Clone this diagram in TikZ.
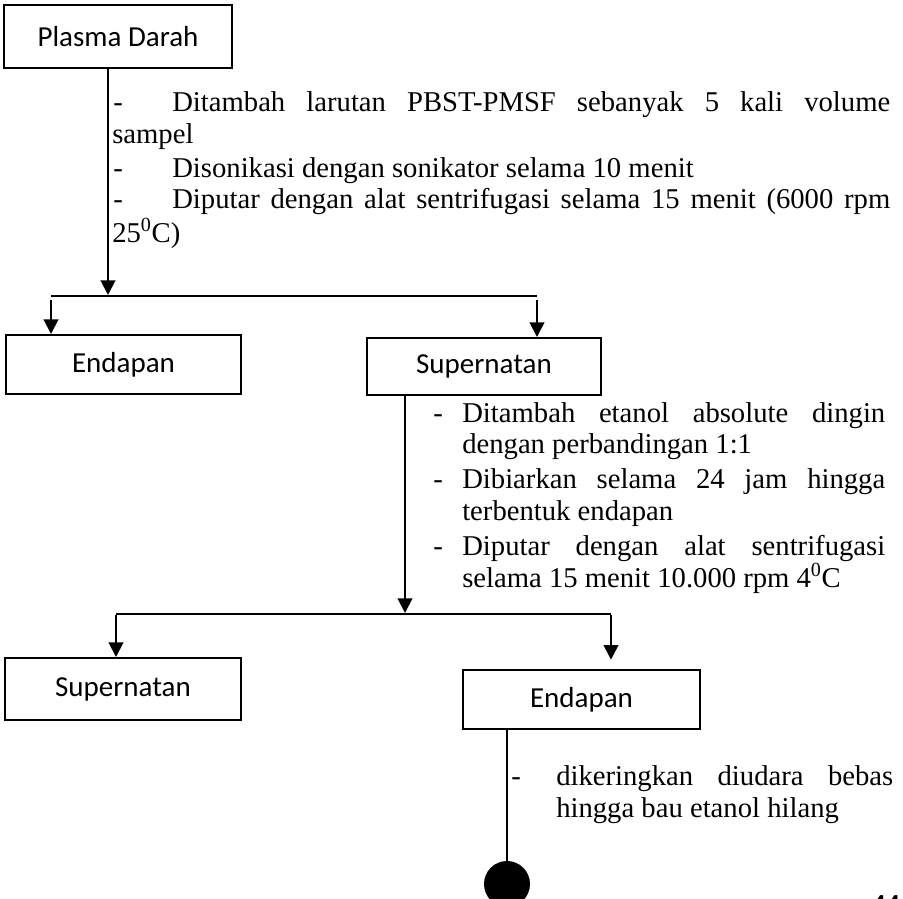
\documentclass[tikz,border=0pt]{standalone}
\usepackage{fontspec}
\setmainfont{Liberation Serif}
\newfontfamily\labelfont{Carlito}
\usetikzlibrary{arrows.meta}

\begin{document}
\begin{tikzpicture}[x=0.75pt,y=-0.75pt,
  box/.style={draw, line width=1.5pt, inner sep=0pt,
    font=\labelfont\fontsize{21.75pt}{26pt}\selectfont},
  flow/.style={line width=1.5pt},
  arr/.style={flow, -{Triangle[width=11pt,length=11pt]}},
  note/.style={anchor=base west, inner sep=0pt,
    font=\fontsize{21.5pt}{24.4pt}\selectfont}]
\useasboundingbox (0,0) rectangle (903,899);

% ---- boxes ----
\node[box, minimum width=171pt, minimum height=47.25pt] (plasma) at (118,36.5) {Plasma Darah};
\node[box, minimum width=176.25pt, minimum height=44.25pt] (end1) at (123.5,364.5) {Endapan};
\node[box, minimum width=175.5pt, minimum height=42.75pt] (sup1) at (484,366.5) {Supernatan};
\node[box, minimum width=177pt, minimum height=46.5pt] (sup2) at (123,689) {Supernatan};
\node[box, minimum width=177.75pt, minimum height=44.25pt] (end2) at (581.5,699.5) {Endapan};
\node[circle, fill=black, inner sep=0pt, minimum size=34.5pt] (dot) at (507,884) {};

% ---- junction points ----
\coordinate (j1) at (108,296);
\coordinate (j1l) at (51,296);
\coordinate (j1r) at (537,296);
\coordinate (j2) at (405,614);
\coordinate (j2l) at (116,614);
\coordinate (j2r) at (611,614);

% ---- connectors ----
\draw[arr] (j1 |- plasma.south) -- ([yshift=0.75pt]j1);
\draw[flow] (j1l) -- (j1r);
\draw[arr] ([yshift=-3pt]j1l) -- (j1l |- end1.north);
\draw[arr] ([yshift=-3pt]j1r) -- (j1r |- sup1.north);

\draw[arr] (j2 |- sup1.south) -- ([yshift=0.75pt]j2);
\draw[flow] (j2l) -- (j2r);
\draw[arr] ([yshift=-1pt]j2l) -- (j2l |- sup2.north);
\draw[arr] ([yshift=-1pt]j2r) -- ([yshift=7pt]j2r |- end2.north);

\draw[flow] (dot |- end2.south) -- (dot.north);

% ---- first processing step ----
\node[note] (a1) at (113,112) {-};
\node[note] (a1t) at (172,112) {\makebox[538.5pt][s]{Ditambah larutan PBST-PMSF sebanyak 5 kali volume}};
\node[note] (a1c) at (112,143) {sampel};
\node[note] (a2) at (113,177) {-};
\node[note] (a2t) at (172,177) {Disonikasi dengan sonikator selama 10 menit};
\node[note] (a3) at (113,208) {-};
\node[note] (a3t) at (172,208) {\makebox[538.5pt][s]{Diputar dengan alat sentrifugasi selama 15 menit (6000 rpm}};
\node[note] (a3c) at (112,242) {25\textsuperscript{0}C)};

% ---- second processing step ----
\node[note] (b1) at (433,422) {-};
\node[note] (b1t) at (462,422) {\makebox[317.25pt][s]{Ditambah etanol absolute dingin}};
\node[note] (b1c) at (462,453) {dengan perbandingan 1:1};
\node[note] (b2) at (433,488) {-};
\node[note] (b2t) at (462,488) {\makebox[317.25pt][s]{Dibiarkan selama 24 jam hingga}};
\node[note] (b2c) at (462,520) {terbentuk endapan};
\node[note] (b3) at (433,555) {-};
\node[note] (b3t) at (462,555) {\makebox[317.25pt][s]{Diputar dengan alat sentrifugasi}};
\node[note] (b3c) at (462,587) {selama 15 menit 10.000 rpm 4\textsuperscript{0}C};

% ---- drying step ----
\node[note] (c1) at (511,785) {-};
\node[note] (c1t) at (556,785) {\makebox[252.75pt][s]{dikeringkan diudara bebas}};
\node[note] (c1c) at (556,817) {hingga bau etanol hilang};

% ---- page number ----
\node[note, font=\bfseries\fontsize{21.5pt}{24.4pt}\selectfont] (pg) at (871,914) {44};
\end{tikzpicture}
\end{document}
